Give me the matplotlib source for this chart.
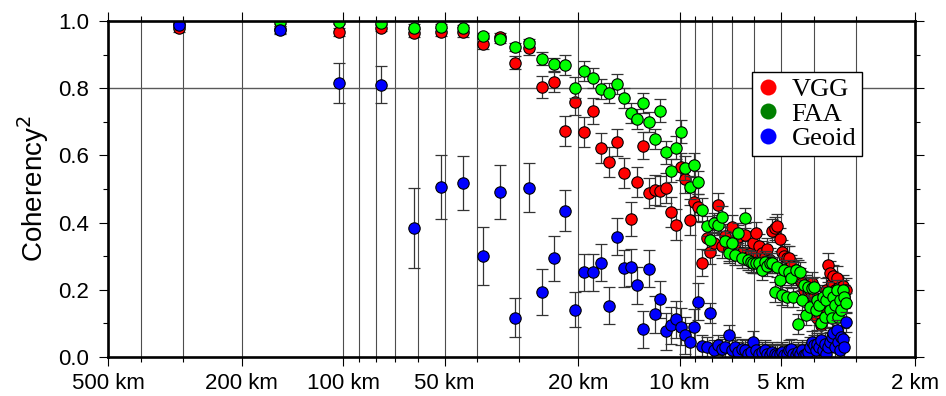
import matplotlib
matplotlib.use("Agg")
import matplotlib.pyplot as plt
from matplotlib.lines import Line2D

plt.rcParams['font.family'] = ['Liberation Sans', 'DejaVu Sans']

# Wavelength of each spectral estimate (km)
wavelength_km = [308.0, 154.0, 102.67, 77.0, 61.6, 51.33, 44.0, 38.5, 34.22, 30.8,
                 28.0, 25.67, 23.69, 22.0, 20.53, 19.25, 18.12, 17.11, 16.21, 15.4,
                 14.67, 14.0, 13.39, 12.83, 12.32, 11.85, 11.41, 11.0, 10.62, 10.27,
                 9.94, 9.63, 9.33, 9.06, 8.8, 8.56, 8.32, 8.11, 7.9, 7.7,
                 7.51, 7.33, 7.16, 7.0, 6.84, 6.7, 6.55, 6.42, 6.29, 6.16,
                 6.04, 5.92, 5.81, 5.7, 5.6, 5.5, 5.4, 5.31, 5.22, 5.13,
                 5.05, 4.97, 4.89, 4.81, 4.74, 4.67, 4.6, 4.53, 4.46, 4.4,
                 4.34, 4.28, 4.22, 4.16, 4.11, 4.05, 4.0, 3.95, 3.9, 3.85,
                 3.8, 3.76, 3.71, 3.67, 3.62, 3.58, 3.54, 3.5, 3.46, 3.42,
                 3.38, 3.35, 3.31, 3.28, 3.24, 3.21]

vgg = [0.98, 0.975, 0.968, 0.98, 0.963, 0.968, 0.968, 0.933, 0.953, 0.876,
       0.92, 0.804, 0.819, 0.673, 0.759, 0.67, 0.732, 0.621, 0.581, 0.639,
       0.548, 0.41, 0.521, 0.629, 0.487, 0.497, 0.495, 0.502, 0.432, 0.394,
       0.566, 0.529, 0.408, 0.462, 0.445, 0.281, 0.353, 0.313, 0.338, 0.452,
       0.33, 0.36, 0.32, 0.388, 0.34, 0.358, 0.31, 0.363, 0.299, 0.309,
       0.34, 0.368, 0.33, 0.31, 0.299, 0.32, 0.29, 0.376, 0.383, 0.391,
       0.35, 0.313, 0.30, 0.294, 0.294, 0.27, 0.25, 0.26, 0.254, 0.23,
       0.22, 0.20, 0.21, 0.185, 0.20, 0.219, 0.18, 0.16, 0.115, 0.13,
       0.095, 0.15, 0.18, 0.20, 0.274, 0.25, 0.22, 0.24, 0.20, 0.235,
       0.204, 0.17, 0.19, 0.21, 0.18, 0.20]
vgg_err = [0.012, 0.01, 0.012, 0.01, 0.012, 0.012, 0.015, 0.015, 0.012, 0.02,
           0.02, 0.033, 0.03, 0.045, 0.04, 0.045, 0.04, 0.045, 0.045, 0.04,
           0.045, 0.05, 0.045, 0.04, 0.045, 0.045, 0.045, 0.045, 0.045, 0.045,
           0.04, 0.04, 0.045, 0.04, 0.04, 0.04, 0.035, 0.035, 0.035, 0.035,
           0.035, 0.035, 0.035, 0.035, 0.035, 0.035, 0.035, 0.035, 0.035, 0.035,
           0.035, 0.035, 0.035, 0.035, 0.035, 0.035, 0.035, 0.035, 0.035, 0.035,
           0.035, 0.035, 0.035, 0.035, 0.035, 0.035, 0.035, 0.035, 0.035, 0.035,
           0.035, 0.035, 0.035, 0.035, 0.035, 0.035, 0.035, 0.035, 0.035, 0.035,
           0.035, 0.035, 0.035, 0.035, 0.035, 0.035, 0.035, 0.035, 0.035, 0.035,
           0.035, 0.035, 0.035, 0.035, 0.035, 0.035]

faa = [0.99, 0.996, 0.996, 0.995, 0.978, 0.981, 0.978, 0.955, 0.946, 0.923,
       0.935, 0.888, 0.871, 0.869, 0.802, 0.852, 0.831, 0.798, 0.785, 0.812,
       0.77, 0.727, 0.708, 0.756, 0.699, 0.65, 0.733, 0.609, 0.555, 0.623,
       0.671, 0.562, 0.505, 0.572, 0.52, 0.437, 0.39, 0.348, 0.398, 0.393,
       0.418, 0.346, 0.309, 0.338, 0.304, 0.368, 0.294, 0.413, 0.289, 0.284,
       0.279, 0.279, 0.279, 0.26, 0.284, 0.27, 0.28, 0.279, 0.194, 0.269,
       0.229, 0.185, 0.259, 0.179, 0.254, 0.234, 0.179, 0.26, 0.097, 0.254,
       0.17, 0.214, 0.125, 0.209, 0.15, 0.204, 0.209, 0.14, 0.17, 0.155,
       0.10, 0.179, 0.12, 0.17, 0.194, 0.14, 0.115, 0.179, 0.155, 0.20,
       0.12, 0.17, 0.14, 0.20, 0.18, 0.16]
faa_err = [0.008, 0.006, 0.006, 0.006, 0.012, 0.01, 0.01, 0.01, 0.01, 0.012,
           0.012, 0.02, 0.02, 0.03, 0.03, 0.03, 0.03, 0.03, 0.03, 0.03,
           0.03, 0.03, 0.03, 0.03, 0.03, 0.03, 0.035, 0.035, 0.035, 0.035,
           0.035, 0.035, 0.035, 0.035, 0.035, 0.035, 0.03, 0.03, 0.03, 0.03,
           0.03, 0.03, 0.03, 0.03, 0.03, 0.03, 0.03, 0.03, 0.03, 0.03,
           0.03, 0.03, 0.03, 0.03, 0.03, 0.03, 0.03, 0.03, 0.03, 0.03,
           0.03, 0.03, 0.03, 0.03, 0.03, 0.03, 0.03, 0.03, 0.03, 0.03,
           0.03, 0.03, 0.03, 0.03, 0.03, 0.03, 0.03, 0.03, 0.03, 0.03,
           0.03, 0.03, 0.03, 0.03, 0.03, 0.03, 0.03, 0.03, 0.03, 0.03,
           0.03, 0.03, 0.03, 0.03, 0.03, 0.03]

geoid = [0.988, 0.972, 0.815, 0.81, 0.384, 0.505, 0.517, 0.30, 0.492, 0.117,
         0.504, 0.194, 0.294, 0.435, 0.14, 0.252, 0.252, 0.281, 0.152, 0.358,
         0.264, 0.267, 0.214, 0.082, 0.262, 0.127, 0.172, 0.077, 0.095, 0.112,
         0.09, 0.065, 0.046, 0.088, 0.165, 0.034, 0.03, 0.13, 0.02, 0.035,
         0.025, 0.03, 0.065, 0.02, 0.03, 0.015, 0.025, 0.02, 0.01, 0.015,
         0.046, 0.02, 0.01, 0.015, 0.02, 0.01, 0.005, 0.015, 0.01, 0.005,
         0.01, 0.015, 0.005, 0.01, 0.02, 0.025, 0.01, 0.005, 0.015, 0.01,
         0.02, 0.005, 0.01, 0.015, 0.03, 0.046, 0.035, 0.02, 0.04, 0.03,
         0.05, 0.02, 0.04, 0.01, 0.03, 0.045, 0.06, 0.07, 0.03, 0.08,
         0.045, 0.02, 0.06, 0.055, 0.03, 0.105]
geoid_err = [0.012, 0.012, 0.06, 0.055, 0.12, 0.095, 0.08, 0.087, 0.08, 0.058,
             0.073, 0.068, 0.067, 0.061, 0.052, 0.055, 0.055, 0.055, 0.055, 0.055,
             0.055, 0.055, 0.055, 0.055, 0.055, 0.055, 0.055, 0.055, 0.055, 0.055,
             0.055, 0.055, 0.055, 0.055, 0.055, 0.03, 0.03, 0.03, 0.03, 0.03,
             0.03, 0.03, 0.03, 0.03, 0.03, 0.03, 0.03, 0.03, 0.03, 0.03,
             0.03, 0.03, 0.03, 0.03, 0.03, 0.03, 0.03, 0.03, 0.03, 0.03,
             0.03, 0.03, 0.03, 0.03, 0.03, 0.03, 0.03, 0.03, 0.03, 0.03,
             0.03, 0.03, 0.03, 0.03, 0.03, 0.03, 0.03, 0.03, 0.03, 0.03,
             0.03, 0.03, 0.03, 0.03, 0.03, 0.03, 0.03, 0.03, 0.03, 0.03,
             0.03, 0.03, 0.03, 0.03, 0.03, 0.03]

series_names = ['VGG', 'FAA', 'Geoid']
marker_colors = ['#ff0000', '#00ff00', '#0000ff']
legend_colors = ['#ff0000', '#008000', '#0000ff']

major_km = [500, 200, 100, 50, 20, 10, 5, 2]
major_labels = ['500 km', '200 km', '100 km', '50 km', '20 km', '10 km', '5 km', '2 km']
minor_km = [400, 300, 90, 80, 70, 60, 40, 30, 9, 8, 7, 6, 4, 3]
y_major = [0.0, 0.2, 0.4, 0.6, 0.8, 1.0]
y_minor = [0.1, 0.3, 0.5, 0.7, 0.9]

fig = plt.figure(figsize=(9.46, 3.96), dpi=100)
ax = fig.add_axes([108/946, 1 - 357/396, 807/946, 336/396])

ax.set_xscale('log')
ax.set_xlim(500, 2)
ax.set_ylim(0, 1)

for xv in major_km + minor_km:
    ax.axvline(xv, color='0.3', lw=0.8, zorder=1)
ax.axhline(0.8, color='0.35', lw=1.0, zorder=1)

datasets = [(vgg, vgg_err), (faa, faa_err), (geoid, geoid_err)]
z = 3
for (vals, errs), col in zip(datasets, marker_colors):
    ax.errorbar(wavelength_km, vals, yerr=errs, fmt='none', ecolor='0.2',
                elinewidth=0.9, capsize=4.5, capthick=0.9, zorder=z)
    ax.plot(wavelength_km, vals, 'o', ms=8.2, mfc=col, mec='black', mew=0.8,
            zorder=z + 0.5)
    z += 1

ax.set_xticks(major_km)
ax.set_xticklabels(major_labels)
ax.set_xticks(minor_km, minor=True)
ax.set_xticklabels([], minor=True)
ax.set_yticks(y_major)
ax.set_yticklabels(['%.1f' % v for v in y_major])
ax.set_yticks(y_minor, minor=True)

ax.tick_params(axis='both', which='major', direction='out', length=6.5, width=0.8,
               labelsize=16, top=True, right=True, bottom=True, left=True)
ax.tick_params(axis='both', which='minor', direction='out', length=3.6, width=0.8,
               top=True, right=True, bottom=True, left=True)
ax.tick_params(axis='y', which='major', pad=7)
ax.tick_params(axis='x', which='major', pad=5)

for sp in ax.spines.values():
    sp.set_linewidth(1.9)
    sp.set_zorder(10)

ax.set_ylabel('Coherency$^2$', fontsize=20, labelpad=5)

handles = [Line2D([], [], ls='none', marker='o', ms=11.5, mfc=c, mec=c, mew=0)
           for c in legend_colors]
leg = ax.legend(handles, series_names, loc='upper left',
                bbox_to_anchor=((752 - 108) / 807, (357 - 72) / 336),
                prop={'family': 'Liberation Serif', 'size': 19},
                frameon=True, fancybox=False, edgecolor='black', framealpha=1,
                borderpad=0.2, labelspacing=0.05, handlelength=0.85,
                handletextpad=0.45, borderaxespad=0)
leg.get_frame().set_linewidth(1.0)
leg.set_zorder(20)

fig.savefig('out.png', dpi=100)
